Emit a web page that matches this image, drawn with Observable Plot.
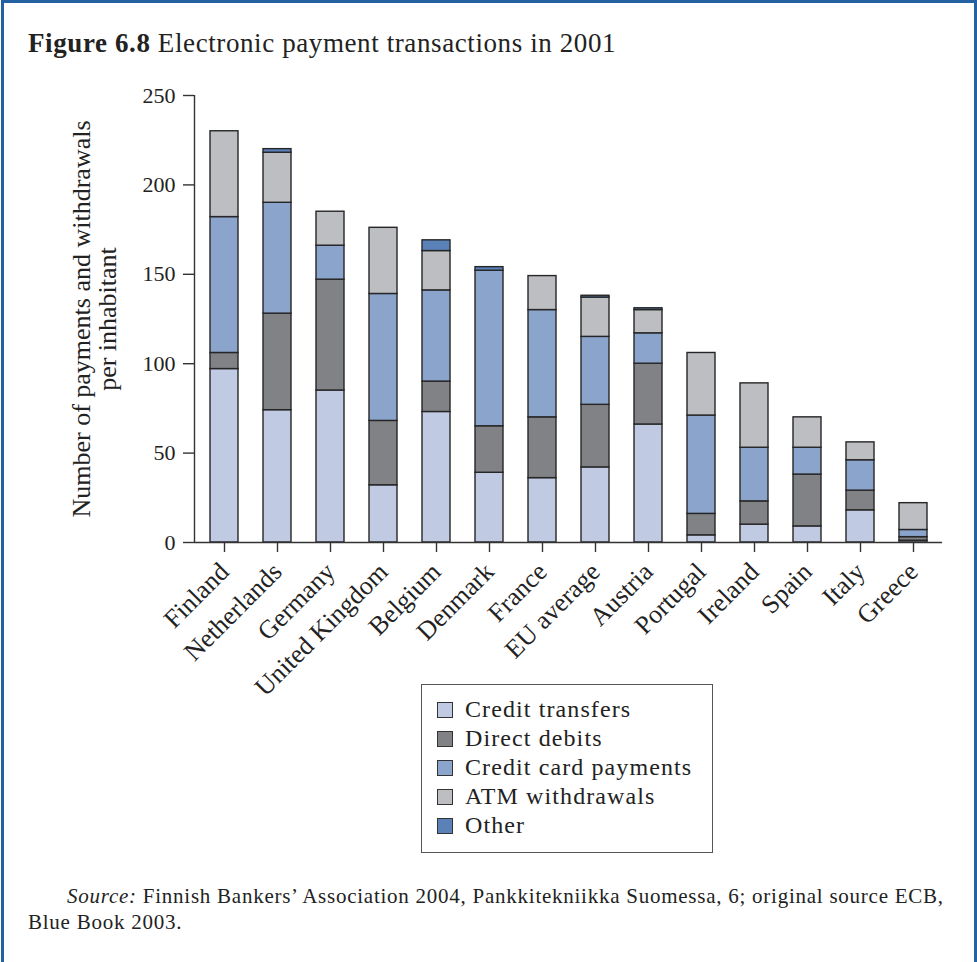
<!DOCTYPE html>
<html>
<head>
<meta charset="utf-8">
<script src="https://cdn.jsdelivr.net/npm/d3@7"></script>
<script src="https://cdn.jsdelivr.net/npm/@observablehq/plot@0.6"></script>
<style>
  body { margin: 0; background: #fff; font-family: "Liberation Serif", serif; color: #222; }
  #page { position: relative; width: 977px; height: 962px; overflow: hidden; background: #fff; }
  #border { position: absolute; left: 1px; top: 0; width: 970px; height: 1000px; border: 3px solid #2461a1; }
  #title { position: absolute; left: 28px; top: 28px; font-size: 27px; letter-spacing: 0.6px; white-space: nowrap; }
  #chart { position: absolute; left: 0; top: 70px; }
  #legend { position: absolute; left: 421px; top: 684px; width: 292px; height: 169px; border: 1px solid #555; box-sizing: border-box; padding: 10px 0 0 15px; background: #fff; }
  .item { display: flex; align-items: center; height: 29px; font-size: 24px; letter-spacing: 1.1px; white-space: nowrap; }
  .sw { width: 14px; height: 14px; border: 1px solid #333; margin-right: 12px; flex: none; }
  #source { position: absolute; left: 28px; top: 883px; font-size: 21px; letter-spacing: 0.75px; line-height: 26px; white-space: nowrap; }
</style>
</head>
<body>
<div id="page">
  <div id="border"></div>
  <div id="title"><b>Figure 6.8</b> Electronic payment transactions in 2001</div>
  <div id="chart"></div>
  <div id="legend"></div>
  <div id="source"><span style="padding-left:39px"><i>Source:</i> Finnish Bankers’ Association 2004, Pankkitekniikka Suomessa, 6; original source ECB,</span><br>Blue Book 2003.</div>
</div>
<script>
const countries = ["Finland","Netherlands","Germany","United Kingdom","Belgium","Denmark","France","EU average","Austria","Portugal","Ireland","Spain","Italy","Greece"];
const series = ["Credit transfers","Direct debits","Credit card payments","ATM withdrawals","Other"];
const colors = ["#c0cae3","#818285","#8aa4cc","#bdbec2","#5a82b9"];
const creditTransfers = [97, 74, 85, 32, 73, 39, 36, 42, 66, 4, 10, 9, 18, 1];
const directDebits    = [9, 54, 62, 36, 17, 26, 34, 35, 34, 12, 13, 29, 11, 2];
const creditCards     = [76, 62, 19, 71, 51, 87, 60, 38, 17, 55, 30, 15, 17, 4];
const atmWithdrawals  = [48, 28, 19, 37, 22, 0, 19, 22, 13, 35, 36, 17, 10, 15];
const other           = [0, 2, 0, 0, 6, 2, 0, 1, 1, 0, 0, 0, 0, 0];
const yTicks = [0, 50, 100, 150, 200, 250];
const yLabel = "Number of payments and withdrawals\nper inhabitant";

const values = [creditTransfers, directDebits, creditCards, atmWithdrawals, other];
const rows = [];
countries.forEach((c, i) => {
  series.forEach((s, j) => {
    if (values[j][i] > 0) rows.push({country: c, series: s, value: values[j][i]});
  });
});

const W = 977, H = 640, ML = 194, MR = 35, MT = 25, MB = H - MT - 447;
const chart = Plot.plot({
  width: W,
  height: H,
  marginLeft: ML,
  marginRight: MR,
  marginTop: MT,
  marginBottom: MB,
  style: {fontFamily: "Liberation Serif, serif", fontSize: "22px", color: "#222", background: "transparent", overflow: "visible"},
  x: {domain: countries, paddingInner: 0.475, paddingOuter: 0.25, label: null},
  y: {domain: [0, 250], label: null},
  color: {domain: series, range: colors},
  marks: [
    Plot.barY(rows, {x: "country", y: "value", fill: "series", order: series, stroke: "#262626", strokeWidth: 1.4}),
    Plot.ruleY([0], {stroke: "#333", strokeWidth: 1.4}),
    // vertical y-axis line: a rule with no x sits at the frame centre, shifted to the left edge
    Plot.ruleX([0], {x: null, dx: -(W - ML - MR) / 2, stroke: "#333", strokeWidth: 1.4}),
    Plot.axisY({ticks: yTicks, tickSize: 11, tickPadding: 8, label: null, stroke: "#333", strokeWidth: 1.4, fontSize: 22, style: {letterSpacing: "1px"}}),
    Plot.axisX({tickRotate: -45, tickSize: 10, tickPadding: 15, label: null, stroke: "#333", strokeWidth: 1.4, fontSize: 26, style: {letterSpacing: "1.4px"}}),
    Plot.text([yLabel], {text: d => d, frameAnchor: "left", textAnchor: "middle", rotate: -90, dx: -100, lineHeight: 1.0, fontSize: 26, fill: "#222", style: {letterSpacing: "2px"}})
  ]
});
document.getElementById("chart").appendChild(chart);

const legend = document.getElementById("legend");
series.forEach((s, j) => {
  const item = document.createElement("div");
  item.className = "item";
  const sw = document.createElement("span");
  sw.className = "sw";
  sw.style.background = colors[j];
  item.appendChild(sw);
  item.appendChild(document.createTextNode(s));
  legend.appendChild(item);
});
</script>
</body>
</html>
